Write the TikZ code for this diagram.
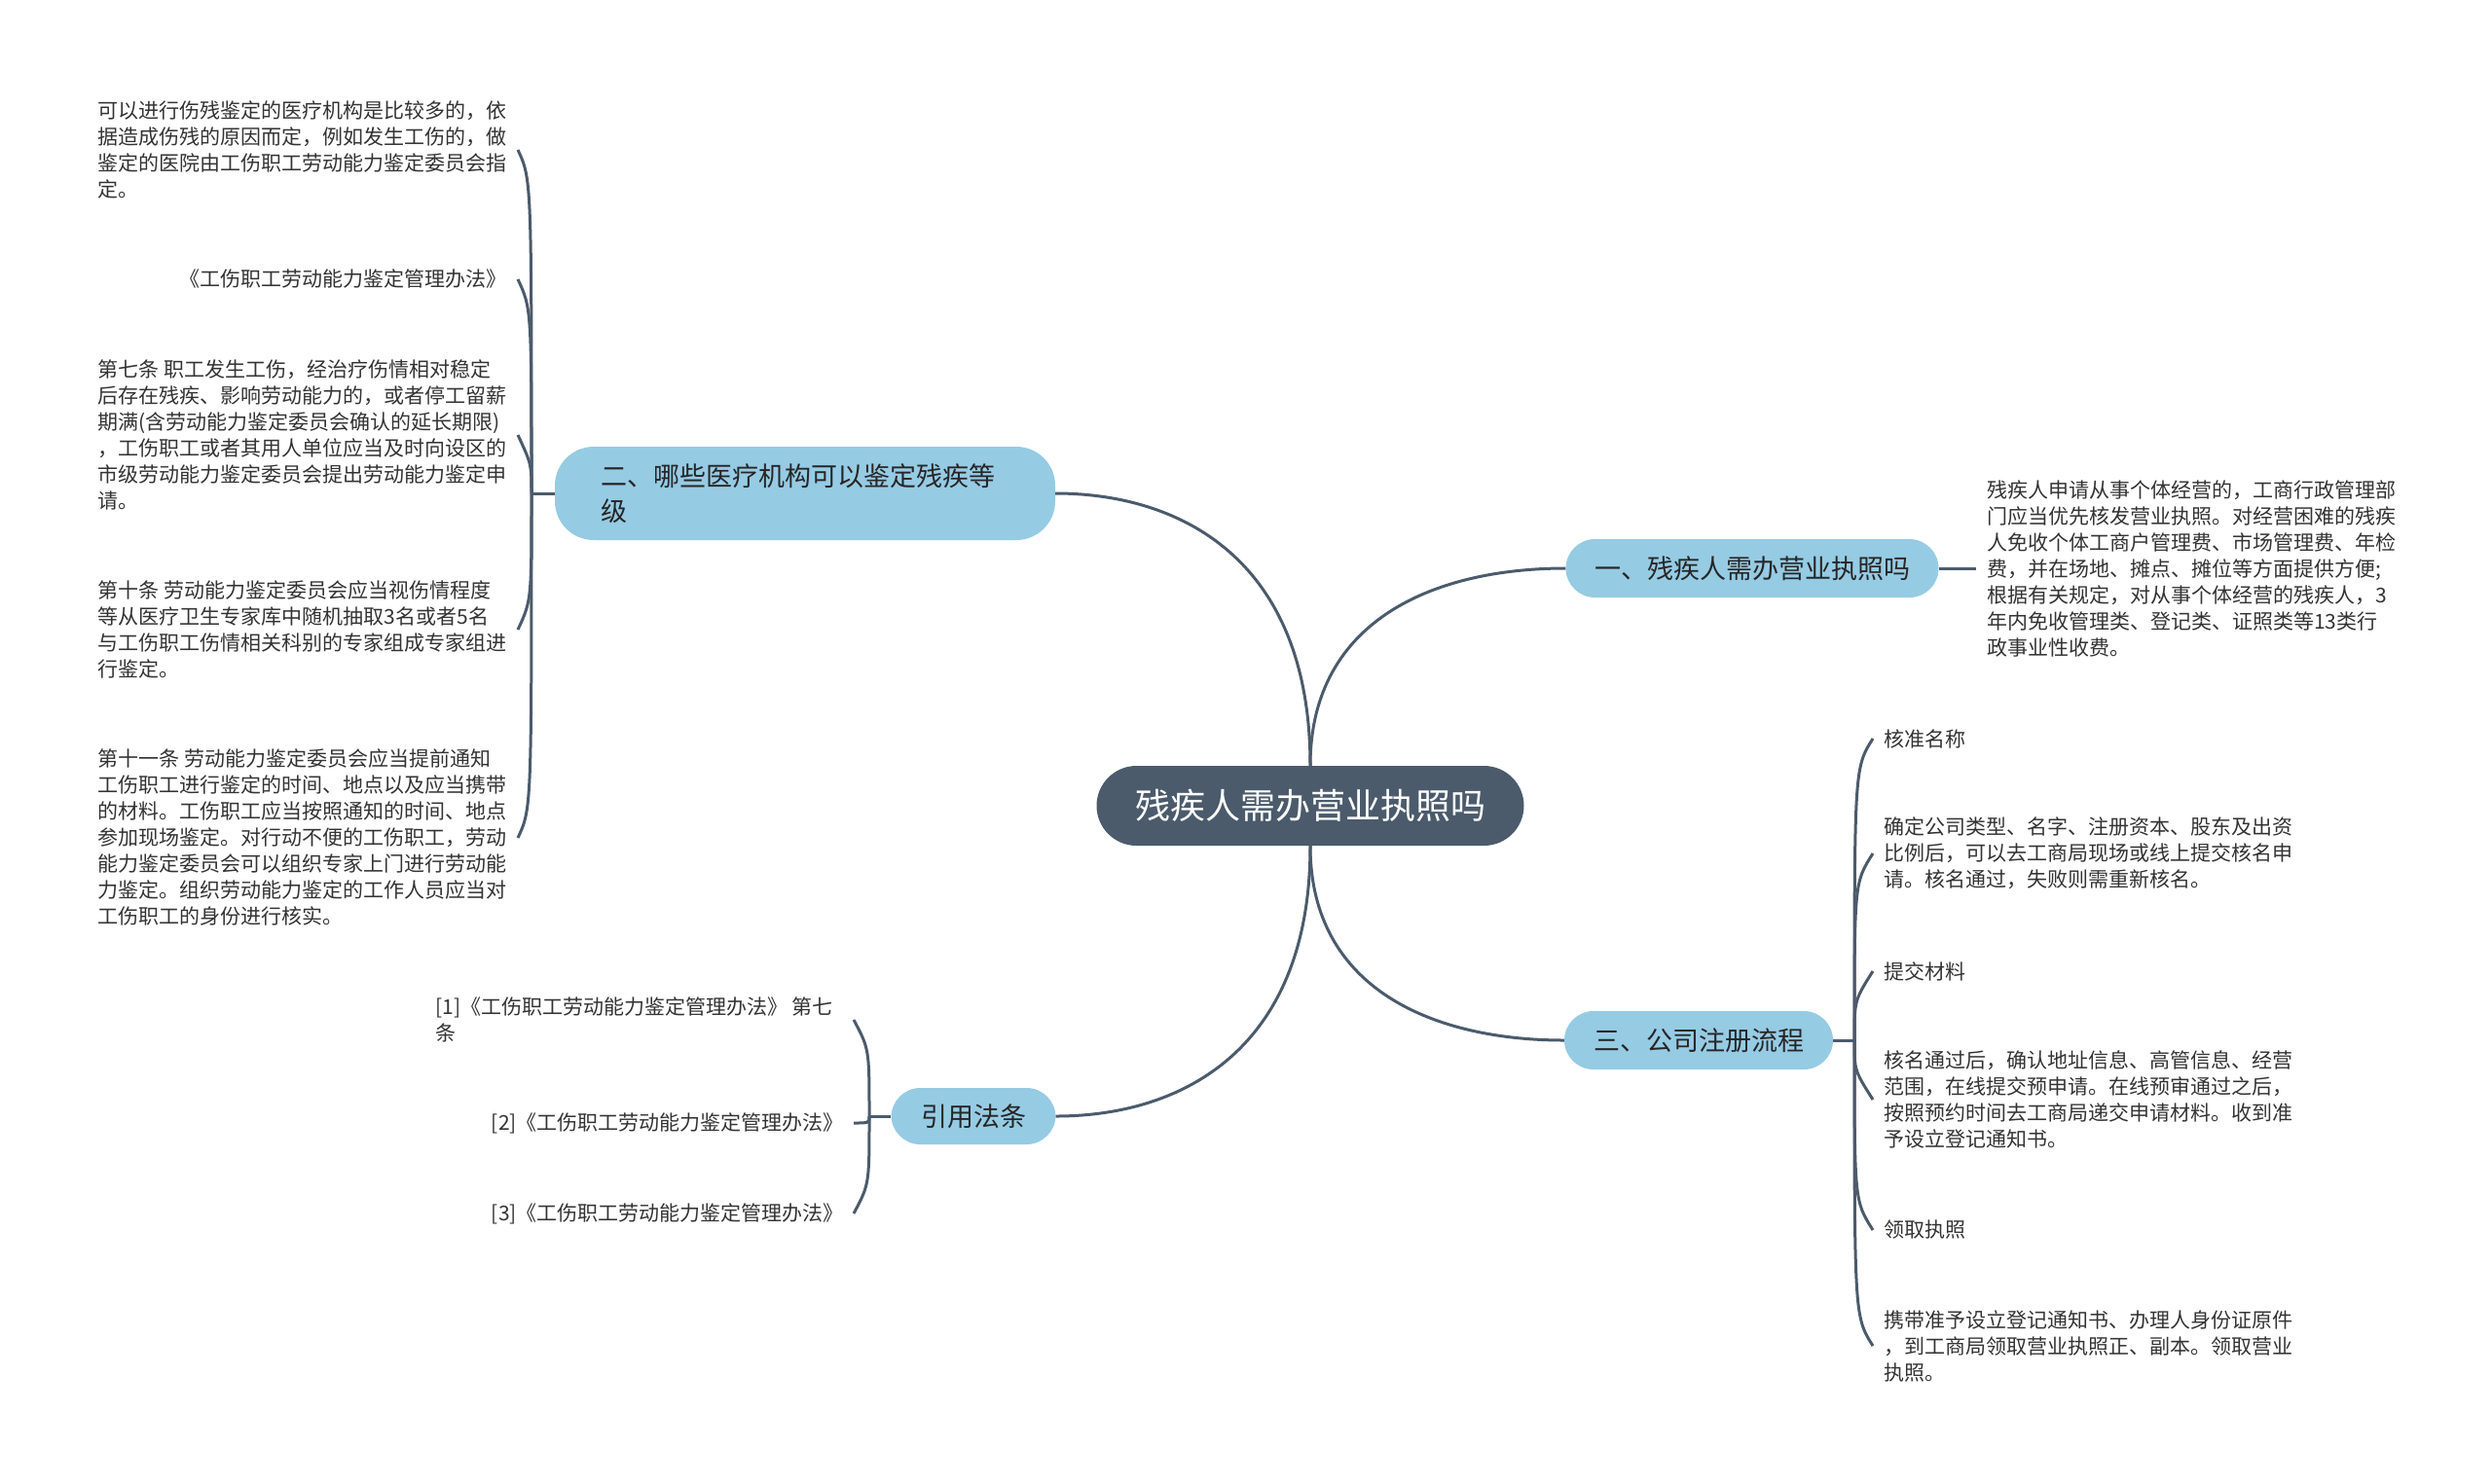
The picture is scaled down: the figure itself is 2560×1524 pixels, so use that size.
\documentclass[tikz,border=0pt]{standalone}
\usepackage{fontspec}
\setmainfont{Noto Sans CJK SC}
\usetikzlibrary{calc}
\definecolor{rootslate}{RGB}{75,91,107}
\definecolor{topicblue}{RGB}{150,203,228}
\definecolor{leafgray}{RGB}{51,51,51}

\begin{document}
\begin{tikzpicture}[
    x=1pt, y=-1pt,
    rootbox/.style  = {fill=rootslate, text=white, rounded corners=41pt,
                       minimum width=439pt, minimum height=82pt,
                       font=\fontsize{36}{44}\selectfont},
    topicbox/.style = {fill=topicblue, text=black!85, rounded corners=30pt,
                       minimum height=60pt, font=\fontsize{27}{36}\selectfont},
    leaf/.style     = {text=leafgray, align=left, inner xsep=11pt, inner ysep=0pt,
                       font=\fontsize{21}{27}\selectfont},
    link/.style     = {draw=rootslate, line width=3pt},
]
\useasboundingbox (0,0) rectangle (2560,1524);

% Centre
\node[rootbox] (root) at (1346,828) {残疾人需办营业执照吗};

% Topics
\node[topicbox, minimum width=383pt] (t1) at (1800,584) {一、残疾人需办营业执照吗};
\node[topicbox, minimum height=96pt, rounded corners=40pt, align=left,
      text width=420pt, inner xsep=47pt] (t2) at (827,507)
      {二、哪些医疗机构可以鉴定残疾等\\级};
\node[topicbox, minimum width=276pt] (t3) at (1745,1069) {三、公司注册流程};
\node[topicbox, minimum width=169pt, minimum height=58pt] (t4) at (1000,1147) {引用法条};

% Junctions
\coordinate (j2) at (546,507);
\coordinate (j3) at (1905,1069);
\coordinate (j4) at (893,1147);

% Leaves of topic one
\node[leaf, anchor=west] (l11) at (2030,584)
  {残疾人申请从事个体经营的，工商行政管理部\\门应当优先核发营业执照。对经营困难的残疾\\人免收个体工商户管理费、市场管理费、年检\\费，并在场地、摊点、摊位等方面提供方便;\\根据有关规定，对从事个体经营的残疾人，3\\年内免收管理类、登记类、证照类等13类行\\政事业性收费。};

% Leaves of topic two
\node[leaf, anchor=east] (l21) at (532,154)
  {可以进行伤残鉴定的医疗机构是比较多的，依\\据造成伤残的原因而定，例如发生工伤的，做\\鉴定的医院由工伤职工劳动能力鉴定委员会指\\定。};
\node[leaf, anchor=east] (l22) at (532,287) {《工伤职工劳动能力鉴定管理办法》};
\node[leaf, anchor=east] (l23) at (532,447)
  {第七条 职工发生工伤，经治疗伤情相对稳定\\后存在残疾、影响劳动能力的，或者停工留薪\\期满(含劳动能力鉴定委员会确认的延长期限)\\，工伤职工或者其用人单位应当及时向设区的\\市级劳动能力鉴定委员会提出劳动能力鉴定申\\请。};
\node[leaf, anchor=east] (l24) at (532,647)
  {第十条 劳动能力鉴定委员会应当视伤情程度\\等从医疗卫生专家库中随机抽取3名或者5名\\与工伤职工伤情相关科别的专家组成专家组进\\行鉴定。};
\node[leaf, anchor=east] (l25) at (532,861)
  {第十一条 劳动能力鉴定委员会应当提前通知\\工伤职工进行鉴定的时间、地点以及应当携带\\的材料。工伤职工应当按照通知的时间、地点\\参加现场鉴定。对行动不便的工伤职工，劳动\\能力鉴定委员会可以组织专家上门进行劳动能\\力鉴定。组织劳动能力鉴定的工作人员应当对\\工伤职工的身份进行核实。};

% Leaves of topic three
\node[leaf, anchor=west] (l31) at (1924,759) {核准名称};
\node[leaf, anchor=west] (l32) at (1924,877)
  {确定公司类型、名字、注册资本、股东及出资\\比例后，可以去工商局现场或线上提交核名申\\请。核名通过，失败则需重新核名。};
\node[leaf, anchor=west] (l33) at (1924,998) {提交材料};
\node[leaf, anchor=west] (l34) at (1924,1130)
  {核名通过后，确认地址信息、高管信息、经营\\范围，在线提交预申请。在线预审通过之后，\\按照预约时间去工商局递交申请材料。收到准\\予设立登记通知书。};
\node[leaf, anchor=west] (l35) at (1924,1264) {领取执照};
\node[leaf, anchor=west] (l36) at (1924,1383)
  {携带准予设立登记通知书、办理人身份证原件\\，到工商局领取营业执照正、副本。领取营业\\执照。};

% Leaves of topic four
\node[leaf, anchor=east, inner xsep=21pt] (l41) at (877,1048)
  {[1]《工伤职工劳动能力鉴定管理办法》 第七\\条};
\node[leaf, anchor=east, inner xsep=10pt] (l42) at (877,1154) {[2]《工伤职工劳动能力鉴定管理办法》};
\node[leaf, anchor=east, inner xsep=10pt] (l43) at (877,1247) {[3]《工伤职工劳动能力鉴定管理办法》};

% Centre to topics
\draw[link] (root.north) .. controls ($(root.north)!0.75!(root.north |- t1.west)$)
  and ($(t1.west)!0.5!(root.north |- t1.west)$) .. (t1.west);
\draw[link] (root.north) .. controls ($(root.north)!0.75!(root.north |- t2.east)$)
  and ($(t2.east)!0.5!(root.north |- t2.east)$) .. (t2.east);
\draw[link] (root.south) .. controls ($(root.south)!0.75!(root.south |- t3.west)$)
  and ($(t3.west)!0.5!(root.south |- t3.west)$) .. (t3.west);
\draw[link] (root.south) .. controls ($(root.south)!0.75!(root.south |- t4.east)$)
  and ($(t4.east)!0.5!(root.south |- t4.east)$) .. (t4.east);

% Topics to leaves
\draw[link] (t1.east) -- (l11.west);
\draw[link] (t2.west) -- (j2);
\draw[link] (t3.east) -- (j3);
\draw[link] (t4.west) -- (j4);
\foreach \leaf/\bend in {l21/30, l22/30, l23/30, l24/-30, l25/-30}
  \draw[link] (j2) .. controls ($(j2 |- \leaf.east)+(0,\bend)$) .. (\leaf.east);
\foreach \leaf/\bend in {l31/30, l32/30, l33/30, l34/-30, l35/-30, l36/-30}
  \draw[link] (j3) .. controls ($(j3 |- \leaf.west)+(0,\bend)$) .. (\leaf.west);
\foreach \leaf/\bend in {l41/30, l42/0, l43/-30}
  \draw[link] (j4) .. controls ($(j4 |- \leaf.east)+(0,\bend)$) .. (\leaf.east);

\end{tikzpicture}
\end{document}
